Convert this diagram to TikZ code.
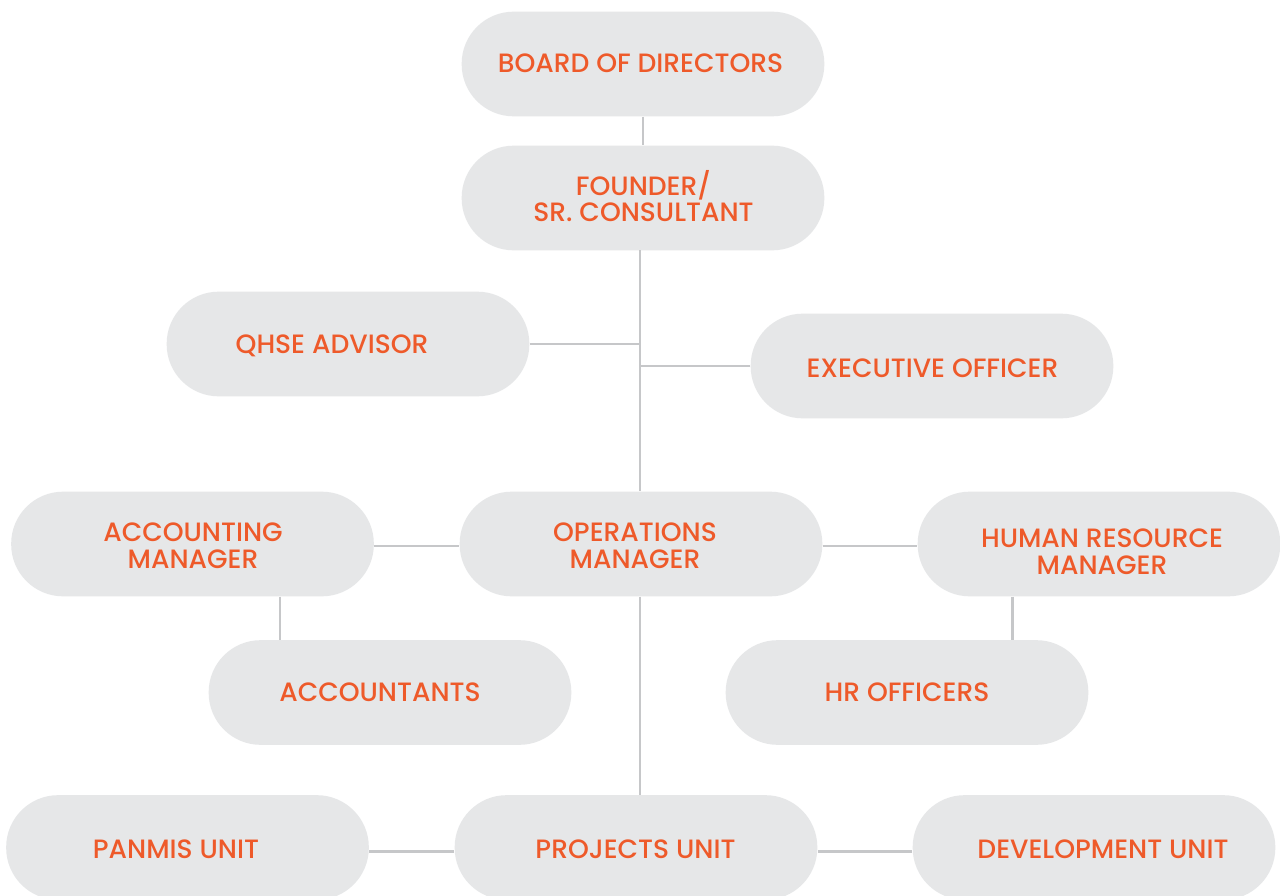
\documentclass[tikz,border=0pt]{standalone}
\usepackage{fontspec}
\setmainfont{Poppins}[UprightFont=* Medium]
\definecolor{boxfill}{HTML}{E6E7E8}
\definecolor{txt}{HTML}{EE5A2A}
\definecolor{ln}{HTML}{C6C7C9}
\begin{document}
\begin{tikzpicture}[x=0.75pt,y=-0.75pt,
  box/.style={fill=boxfill, rounded corners=39pt, minimum width=272pt, minimum height=78.5pt,
    inner sep=0pt},
  lbl/.style={inner sep=0pt, align=center, text=txt, font=\fontsize{19.9}{20.1}\selectfont},
  conn/.style={draw=ln, line width=2.2pt}]
\clip (0,0) rectangle (1280,895);
\fill[white] (0,0) rectangle (1280,895);
\node[box] (board) at (643,64) {};
\node[box] (founder) at (643,198) {};
\node[box] (qhse) at (348,344) {};
\node[box] (exec) at (932,366) {};
\node[box] (acct) at (192.5,544) {};
\node[box] (ops) at (641,544) {};
\node[box] (hrm) at (1099,544) {};
\node[box] (accts) at (390,692.5) {};
\node[box] (hro) at (907,692.5) {};
\node[box] (panmis) at (187.5,847.5) {};
\node[box] (proj) at (636,847.5) {};
\node[box] (dev) at (1094,847.5) {};
\node[lbl] (board-t) at (640.5,63) {BOARD OF DIRECTORS};
\node[lbl] (founder-t) at (643.5,196) {FOUNDER/\\SR. CONSULTANT};
\node[lbl] (qhse-t) at (332,346) {QHSE ADVISOR};
\node[lbl] (exec-t) at (932.5,368) {EXECUTIVE OFFICER};
\node[lbl] (acct-t) at (193,545.5) {ACCOUNTING\\MANAGER};
\node[lbl] (ops-t) at (635,545.5) {OPERATIONS\\MANAGER};
\node[lbl] (hrm-t) at (1102,551.5) {HUMAN RESOURCE\\MANAGER};
\node[lbl] (accts-t) at (380,692) {ACCOUNTANTS};
\node[lbl] (hro-t) at (907,692) {HR OFFICERS};
\node[lbl] (panmis-t) at (176,849) {PANMIS UNIT};
\node[lbl] (proj-t) at (635.5,849) {PROJECTS UNIT};
\node[lbl] (dev-t) at (1103,849) {DEVELOPMENT UNIT};
\coordinate (spine) at (640,250);
\draw[conn] (board.south) -- (founder.north);
\draw[conn] (spine) -- (spine |- ops.north);
\draw[conn] (spine |- ops.south) -- (spine |- proj.north);
\draw[conn] (qhse.east) -- (qhse.east -| spine);
\draw[conn] (exec.west) -- (exec.west -| spine);
\draw[conn] ([yshift=-1.5pt]acct.east) -- ([yshift=-1.5pt]ops.west);
\draw[conn] ([yshift=-1.5pt]ops.east) -- ([yshift=-1.5pt]hrm.west);
\draw[conn] ([xshift=65.6pt]acct.south) -- ([xshift=65.6pt]acct.south |- accts.north);
\draw[conn] ([xshift=-65pt]hrm.south) -- ([xshift=-65pt]hrm.south |- hro.north);
\draw[conn] ([yshift=-3pt]panmis.east) -- ([yshift=-3pt]proj.west);
\draw[conn] ([yshift=-3pt]proj.east) -- ([yshift=-3pt]dev.west);
\end{tikzpicture}
\end{document}
